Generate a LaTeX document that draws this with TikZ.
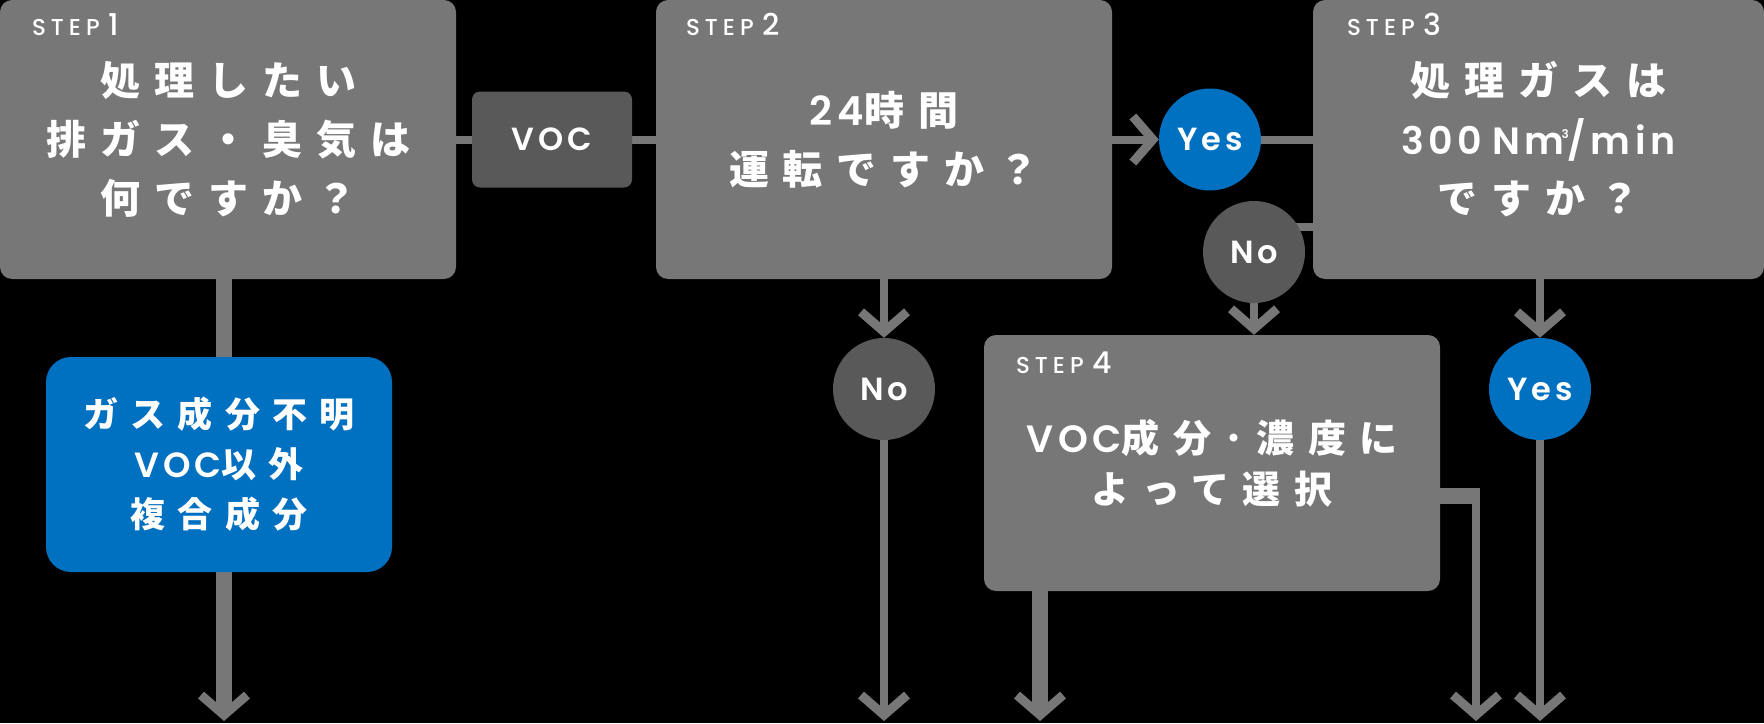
\documentclass[tikz,border=0pt]{standalone}
\usepackage{fontspec}
\setmainfont{Noto Sans CJK JP}
\newfontfamily\jpfont{Noto Sans CJK JP}[LetterSpace=35]
\newfontfamily\latfont{Poppins}[UprightFont=* SemiBold, BoldFont=* SemiBold, LetterSpace=12]
\newfontfamily\stepfont{Poppins}[UprightFont=* Medium, BoldFont=* Medium, LetterSpace=22]
\usetikzlibrary{arrows.meta,positioning,calc}
\pgfdeclarelayer{bg}
\pgfdeclarelayer{lines}
\pgfsetlayers{bg,lines,main}

\definecolor{boxgray}{HTML}{777777}
\definecolor{vocgray}{HTML}{595959}
\definecolor{ansblue}{HTML}{0070C0}

\newcommand\qfont{\jpfont\bfseries\fontsize{40pt}{59pt}\selectfont}
\newcommand\eng[1]{{\latfont #1}}
\newcommand\stepno[1]{STEP\hspace*{9pt}{\stepfont\fontsize{30pt}{30pt}\selectfont #1}}

\tikzset{
  flowtip/.tip={Straight Barb[length=20pt,width=46pt,line width=9pt]},
  stepbox/.style={fill=boxgray, rounded corners=12pt, inner sep=0pt, text=white, align=center, font=\qfont},
  steplab/.style={inner sep=0pt, text=white, anchor=base west, font=\stepfont\fontsize{23pt}{23pt}\selectfont},
  conn/.style={draw=boxgray, line width=8pt},
  wide/.style={line width=16pt},
  yesdot/.style={circle, fill=ansblue, minimum size=102pt, inner sep=0pt, text=white, font=\latfont\fontsize{32pt}{32pt}\selectfont},
  nodot/.style={yesdot, fill=vocgray},
}

\begin{document}
\begin{tikzpicture}[x=1pt,y=-1pt]
\begin{pgfonlayer}{bg}
  \fill[black] (0,0) rectangle (1764,723);
\end{pgfonlayer}
\useasboundingbox (0,0) rectangle (1764,723);

% steps
\node[stepbox, minimum width=456pt, minimum height=279pt] (s1) at (228,139.5) {処理したい\\排ガス・臭気は\\何ですか？};
\node[fill=vocgray, rounded corners=8pt, minimum width=160pt, minimum height=96pt, text=white, font=\latfont\fontsize{32pt}{32pt}\selectfont] (voc) at (552,139.5) {VOC};
\node[stepbox, minimum width=456pt, minimum height=279pt] (s2) at (884,139.5) {\eng{24}時間\\運転ですか？};
\node[yesdot] (yes1) at (1210,139.5) {Yes};
\node[stepbox, minimum width=451pt, minimum height=279pt] (s3) at (1538.5,139.5) {処理ガスは\\{\latfont\fontsize{38pt}{59pt}\selectfont 300\kern10pt Nm\kern-3pt\raisebox{16pt}{\fontsize{12pt}{12pt}\selectfont 3}\kern-1pt/min}\\ですか？};
\node[nodot] (no1) at (1254,252) {No};
\node[stepbox, minimum width=456pt, minimum height=256pt, font=\jpfont\bfseries\fontsize{38pt}{51pt}\selectfont] (s4) at (1212,463) {\eng{VOC}成分･濃度に\\よって選択};
\node[nodot] (no2) at (884,389) {No};
\node[yesdot] (yes2) at (1540,389) {Yes};
\node[fill=ansblue, rounded corners=25pt, minimum width=346pt, minimum height=215pt, text=white, align=center, font=\jpfont\bfseries\fontsize{35pt}{50pt}\selectfont] (ans) at (219,464.5) {ガス成分不明\\\eng{VOC}以外\\複合成分};

% step labels
\node[steplab] (l1) at ($(s1.north west)+(32,36)$) {\stepno{1}};
\node[steplab] (l2) at ($(s2.north west)+(30,36)$) {\stepno{2}};
\node[steplab] (l3) at ($(s3.north west)+(34,36)$) {\stepno{3}};
\node[steplab] (l4) at ($(s4.north west)+(32,39)$) {\stepno{4}};

\coordinate (bot) at (0,721);
\coordinate (j3) at (1313,227);
\coordinate (d1) at (224,0);
\coordinate (d4) at (1040,0);
\coordinate (r4) at (1476,496);

\begin{pgfonlayer}{lines}
  \draw[conn] (s1.east) -- (voc.west);
  \draw[conn] (voc.east) -- (s2.west);
  \draw[conn, -flowtip] (s2.east) -- (yes1.west);
  \draw[conn] (yes1.east) -- (s3.west);
  \draw[conn] (j3) -| (no1.center);
  \draw[conn, -flowtip] (no1.south) -- (no1.south |- s4.north);
  \draw[conn, -flowtip] (no2 |- s2.south) -- (no2.north);
  \draw[conn, -flowtip] (no2.south) -- (no2 |- bot);
  \draw[conn, -flowtip] (yes2 |- s3.south) -- (yes2.north);
  \draw[conn, -flowtip] (yes2.south) -- (yes2 |- bot);
  \draw[conn, wide] (d1 |- s1.south) -- (d1 |- ans.north);
  \draw[conn, wide, -flowtip] (d1 |- ans.south) -- (d1 |- bot);
  \draw[conn, wide, -flowtip] (d4 |- s4.south) -- (d4 |- bot);
  \draw[conn, wide] (s4.east |- r4) -- ([xshift=4pt]r4);
  \draw[conn, -flowtip] ([yshift=8pt]r4) -- (r4 |- bot);
\end{pgfonlayer}
\end{tikzpicture}
\end{document}
